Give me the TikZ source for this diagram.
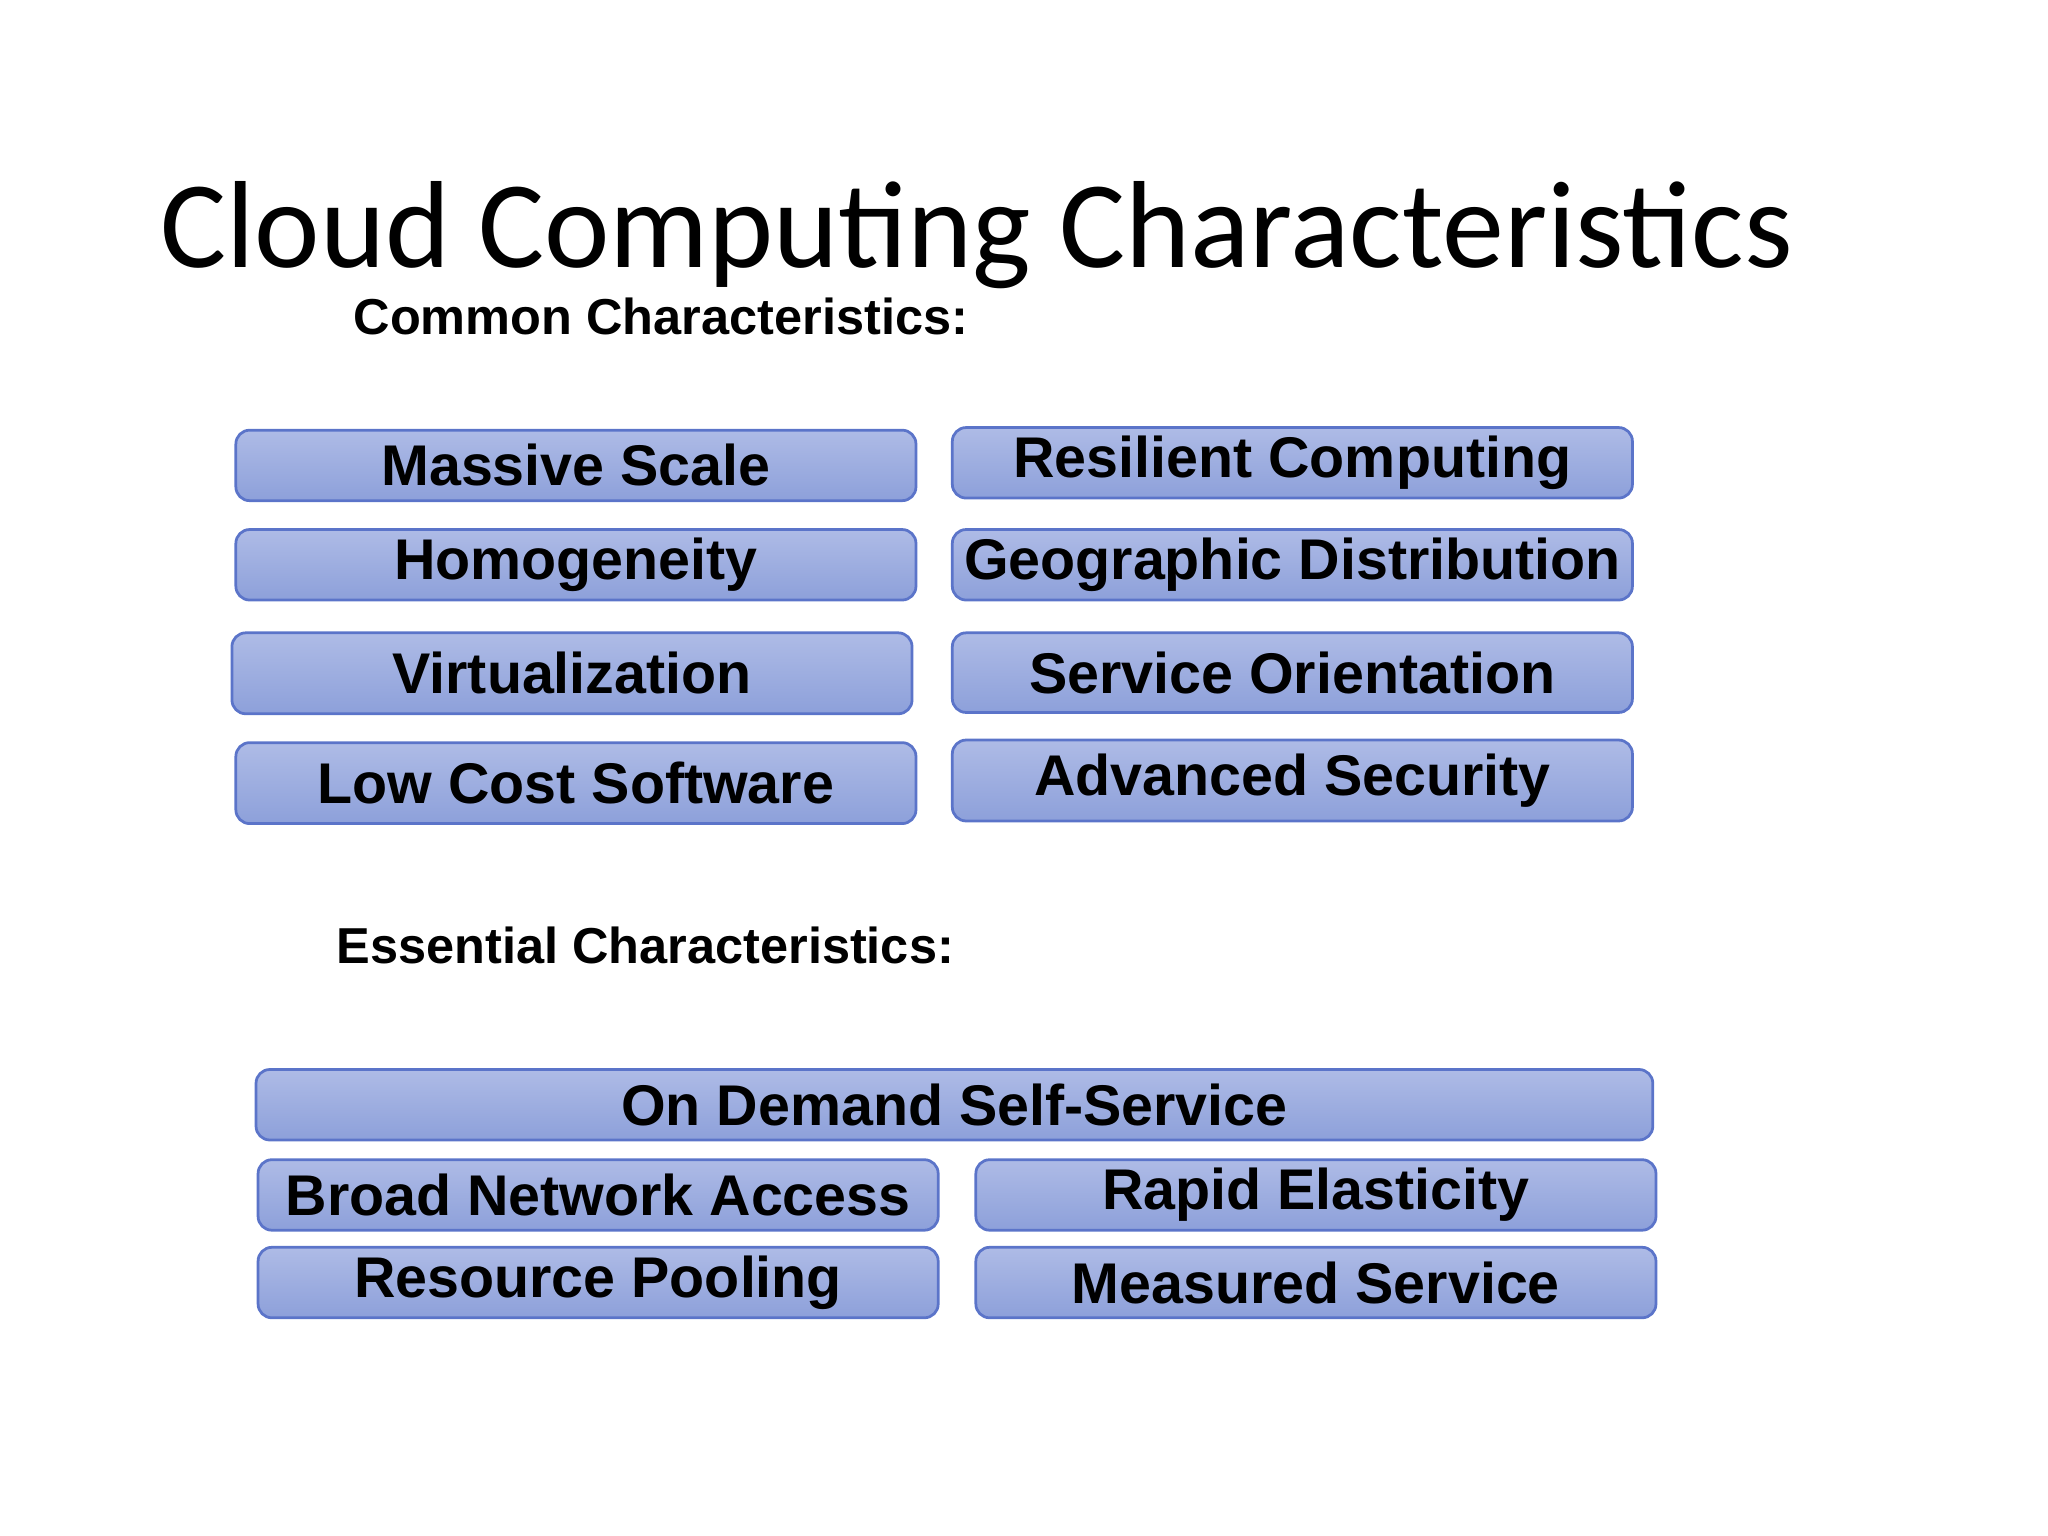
\documentclass[tikz,border=0pt]{standalone}
\usepackage{fontspec}
\setmainfont{Liberation Sans}
\newfontfamily\titlefont{Carlito}
\definecolor{boxtop}{HTML}{AEBBE6}
\definecolor{boxbot}{HTML}{8DA0DA}
\definecolor{boxline}{HTML}{5B74C9}
\tikzset{
 cbox/.style={draw=boxline, line width=0.6pt, rounded corners=3pt, top color=boxtop, bottom color=boxbot, font=\bfseries\fontsize{12.5}{14}\selectfont, inner sep=0pt},
 head/.style={anchor=base west, font=\bfseries\fontsize{11}{13}\selectfont, inner sep=0pt}
}
\newcommand{\cb}[6]{\node[cbox, minimum width={(#3-#2)*0.01cm}, minimum height={(#5-#4)*0.01cm}] (#1) at ({(#2+#3)*0.005}, {-(#4+#5)*0.005}) {#6};}
\begin{document}
\begin{tikzpicture}
\useasboundingbox (0,0) rectangle (15.68,-11.76);
\node[anchor=base west, inner sep=0pt, font=\titlefont\fontsize{27}{30}\selectfont] (title) at (1.22,-2.05) {Cloud Computing Characteristics};
\node[head] (common) at (2.70,-2.56) {Common Characteristics:};
\node[head] (essential) at (2.57,-7.38) {Essential Characteristics:};
\cb{ms}{180}{701}{329}{383}{Massive Scale}
\cb{rc}{728}{1249}{327}{381}{Resilient Computing}
\cb{ho}{180}{701}{405}{459}{Homogeneity}
\cb{gd}{728}{1249}{405}{459}{Geographic Distribution}
\cb{vi}{177}{698}{484}{546}{Virtualization}
\cb{so}{728}{1249}{484}{545}{Service Orientation}
\cb{lc}{180}{701}{568}{630}{Low Cost Software}
\cb{as}{728}{1249}{566}{628}{Advanced Security}
\cb{od}{195}{1265}{818}{872}{On Demand Self-Service}
\cb{bn}{197}{718}{887}{941}{Broad Network Access}
\cb{re}{746}{1267}{887}{941}{Rapid Elasticity}
\cb{rp}{197}{718}{954}{1008}{Resource Pooling}
\cb{me}{746}{1267}{954}{1008}{Measured Service}
\end{tikzpicture}
\end{document}
